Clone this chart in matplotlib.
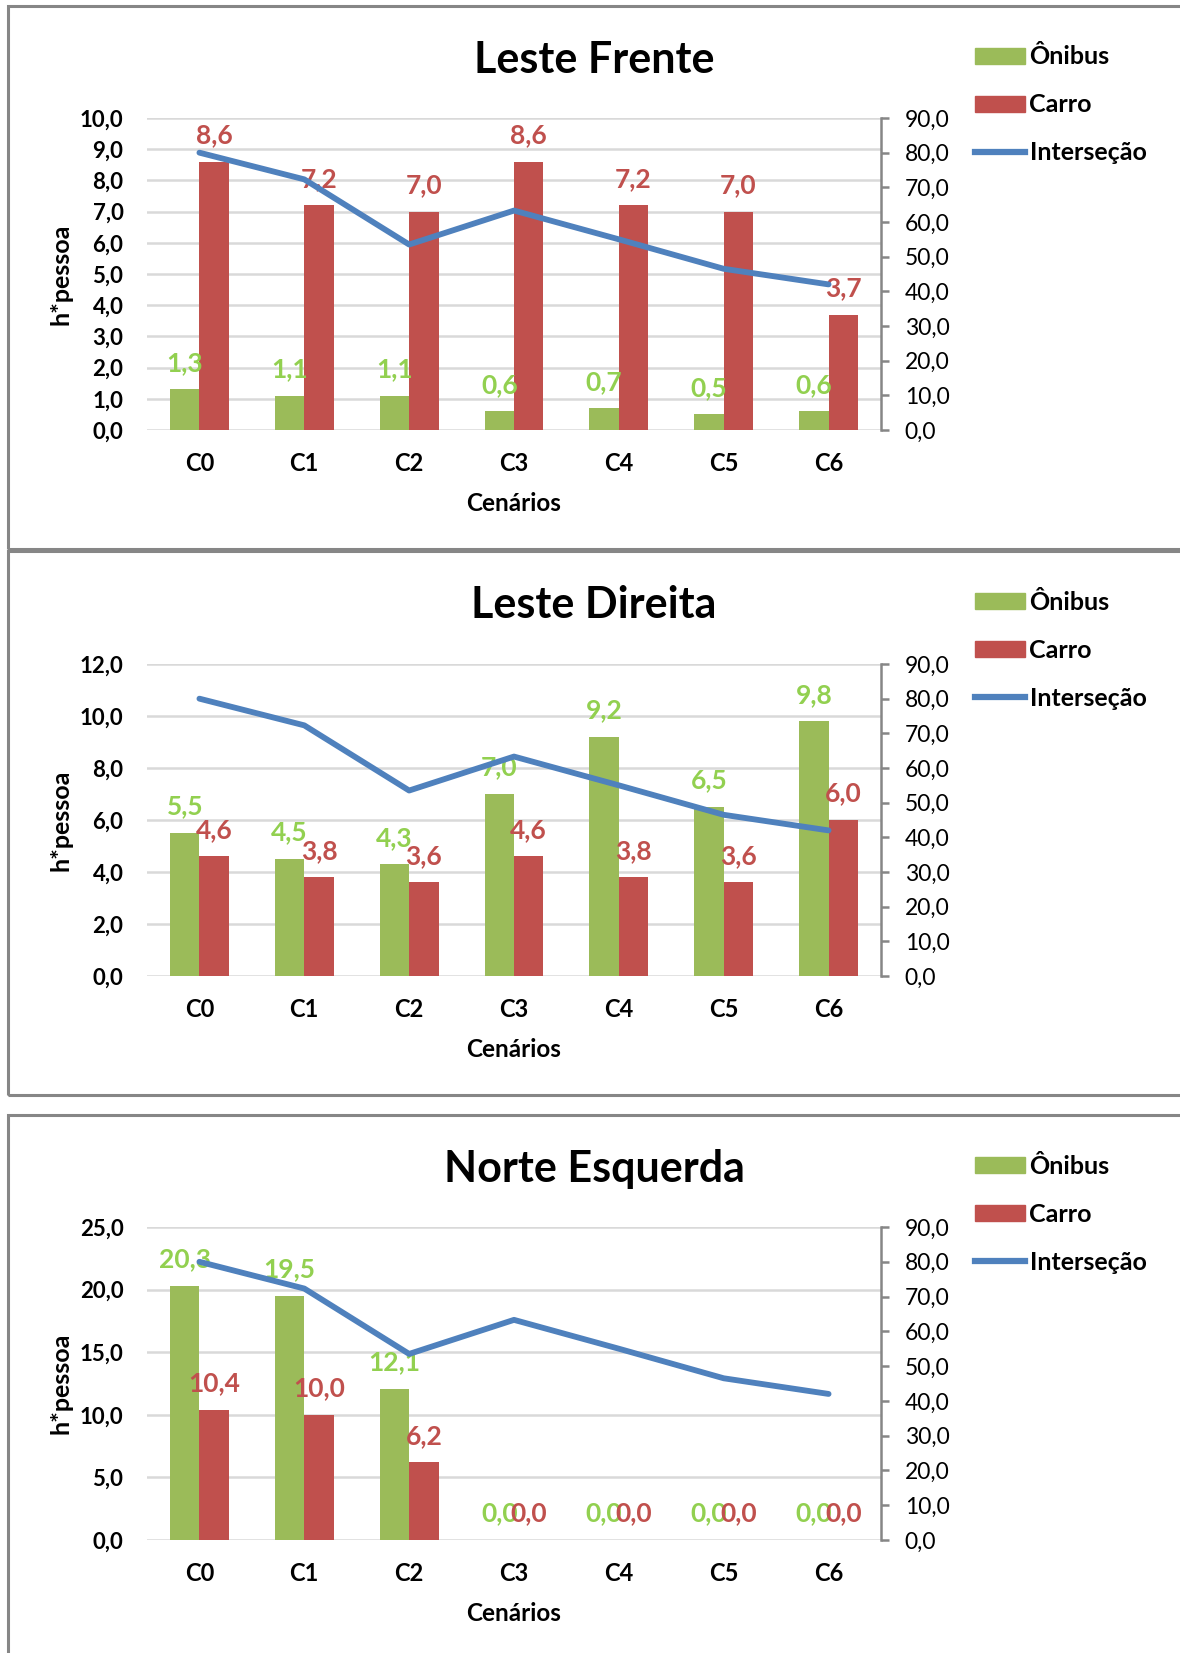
import matplotlib
matplotlib.use('Agg')
import matplotlib.pyplot as plt
from matplotlib.patches import Patch, Rectangle
from matplotlib.lines import Line2D
import numpy as np

plt.rcParams['font.family'] = ['Lato', 'DejaVu Sans']

cenarios = ['C0', 'C1', 'C2', 'C3', 'C4', 'C5', 'C6']
intersecao = [80.0, 72.3, 53.5, 63.3, 55.0, 46.5, 42.0]

titulos = ['Leste Frente', 'Leste Direita', 'Norte Esquerda']
onibus_lf = [1.3, 1.1, 1.1, 0.6, 0.7, 0.5, 0.6]
carro_lf = [8.6, 7.2, 7.0, 8.6, 7.2, 7.0, 3.7]
onibus_ld = [5.5, 4.5, 4.3, 7.0, 9.2, 6.5, 9.8]
carro_ld = [4.6, 3.8, 3.6, 4.6, 3.8, 3.6, 6.0]
onibus_ne = [20.3, 19.5, 12.1, 0.0, 0.0, 0.0, 0.0]
carro_ne = [10.4, 10.0, 6.2, 0.0, 0.0, 0.0, 0.0]

ymax_esq = [10, 12, 25]
passo_esq = [1, 2, 5]

VERDE = '#9BBB59'
VERMELHO = '#C0504D'
AZUL = '#4F81BD'
VERDE_TXT = '#92D050'
GRADE = '#D9D9D9'
BORDA = '#868686'

W, H = 1180, 1653
fig = plt.figure(figsize=(W / 100, H / 100), dpi=100)


def fmt(v):
    return f"{v:.1f}".replace('.', ',')


# caixa do painel, area do eixo, titulo e legenda (pixels a partir do topo)
paineis = [
    dict(box=(6, 549), ax=(118, 430), tit=60, leg=47),
    dict(box=(551, 1095), ax=(664, 976), tit=605, leg=592),
    dict(box=(1115, 1660), ax=(1227, 1540), tit=1169, leg=1156),
]
series = [(onibus_lf, carro_lf), (onibus_ld, carro_ld), (onibus_ne, carro_ne)]

ax_l, ax_r = 147, 881
x = np.arange(len(cenarios))
bw = 0.28

for i, p in enumerate(paineis):
    top, bot = p['box']
    fig.patches.append(Rectangle((8 / W, 1 - bot / H), 1.2, (bot - top) / H,
                                 transform=fig.transFigure, fill=False,
                                 edgecolor=BORDA, lw=2.2))
    at, ab = p['ax']
    ax = fig.add_axes([ax_l / W, 1 - ab / H, (ax_r - ax_l) / W, (ab - at) / H])
    onibus, carro = series[i]

    ax.bar(x - bw / 2, onibus, bw, color=VERDE, zorder=2)
    ax.bar(x + bw / 2, carro, bw, color=VERMELHO, zorder=2)
    for xi, v in zip(x, onibus):
        ax.annotate(fmt(v), (xi - bw / 2, v), xytext=(0, 19), textcoords='offset points',
                    ha='center', va='center', color=VERDE_TXT, fontsize=19, fontweight='bold', zorder=5)
    for xi, v in zip(x, carro):
        ax.annotate(fmt(v), (xi + bw / 2, v), xytext=(0, 19), textcoords='offset points',
                    ha='center', va='center', color=VERMELHO, fontsize=19, fontweight='bold', zorder=5)

    ax.set_xlim(-0.5, len(cenarios) - 0.5)
    ax.set_ylim(0, ymax_esq[i])
    yt = np.arange(0, ymax_esq[i] + 0.001, passo_esq[i])
    ax.set_yticks(yt)
    ax.set_yticklabels([fmt(v) for v in yt], fontsize=16, fontweight='bold')
    ax.set_xticks(x)
    ax.set_xticklabels(cenarios, fontsize=17, fontweight='bold')
    ax.tick_params(axis='y', length=0, pad=17)
    ax.tick_params(axis='x', length=0, pad=16)
    ax.grid(axis='y', color=GRADE, lw=1.8, zorder=0)
    ax.set_axisbelow(True)
    for s in ax.spines.values():
        s.set_visible(False)
    ax.set_xlabel('Cenários', fontsize=17.5, fontweight='bold', labelpad=12)
    ax.set_ylabel('h*pessoa', fontsize=18, fontweight='bold')
    ax.yaxis.set_label_coords(-0.102, 0.5)

    ax2 = ax.twinx()
    ax2.plot(x, intersecao, color=AZUL, lw=4.2, solid_capstyle='round', zorder=3)
    ax2.set_ylim(0, 90)
    yt2 = np.arange(0, 91, 10)
    ax2.set_yticks(yt2)
    ax2.set_yticklabels([fmt(v) for v in yt2], fontsize=16.5)
    ax2.tick_params(axis='y', length=6, width=1.8, color=BORDA, pad=11)
    for nome, s in ax2.spines.items():
        s.set_visible(nome == 'right')
    ax2.spines['right'].set_color(BORDA)
    ax2.spines['right'].set_linewidth(1.8)

    fig.text(594 / W, 1 - p['tit'] / H, titulos[i], ha='center', va='center',
             fontsize=31, fontweight='bold')

    handles = [Patch(color=VERDE), Patch(color=VERMELHO), Line2D([], [], color=AZUL, lw=4.5)]
    fig.legend(handles, ['Ônibus', 'Carro', 'Interseção'], loc='upper left',
               bbox_to_anchor=(962 / W, 1 - (p['leg'] - 14) / H), frameon=False,
               prop=dict(size=18, weight='bold'), handlelength=2.0, handleheight=0.6,
               handletextpad=0.2, labelspacing=1.0, borderpad=0)

fig.savefig('out.png', dpi=100)
